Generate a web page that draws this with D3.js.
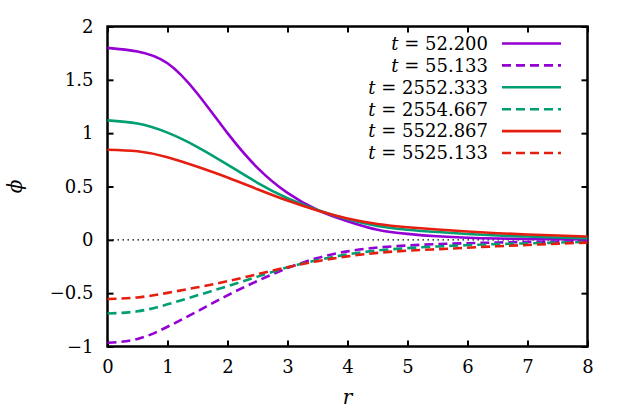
<!DOCTYPE html>
<html>
<head>
<meta charset="utf-8">
<style>
  body { margin: 0; background: #fff; }
  svg text { font-family: "DejaVu Serif", "Liberation Serif", serif; fill: #000; }
</style>
</head>
<body>
<script src="https://cdn.jsdelivr.net/npm/d3@7"></script>
<script>

  // radius samples
  const rValues = [0, 0.5, 1, 1.5, 2, 2.5, 3, 3.5, 4, 4.5, 5, 5.5, 6, 6.5, 7, 7.5, 8]

  const phi_52_200   = [1.80, 1.765, 1.655, 1.37, 1.00, 0.675, 0.44, 0.28, 0.175, 0.095, 0.056, 0.033, 0.019, 0.012, 0.008, 0.005, 0.003]
  const phi_55_133   = [-0.965, -0.93, -0.815, -0.67, -0.52, -0.385, -0.265, -0.17, -0.108, -0.072, -0.053, -0.04, -0.032, -0.025, -0.02, -0.015, -0.012]
  const phi_2552_333 = [1.12, 1.09, 1.005, 0.87, 0.705, 0.535, 0.39, 0.28, 0.192, 0.13, 0.095, 0.073, 0.055, 0.041, 0.031, 0.022, 0.016]
  const phi_2554_667 = [-0.69, -0.67, -0.605, -0.52, -0.435, -0.345, -0.258, -0.19, -0.137, -0.10, -0.078, -0.062, -0.05, -0.04, -0.033, -0.026, -0.02]
  const phi_5522_867 = [0.845, 0.83, 0.775, 0.685, 0.585, 0.475, 0.368, 0.275, 0.20, 0.148, 0.118, 0.097, 0.078, 0.062, 0.05, 0.04, 0.031]
  const phi_5525_133 = [-0.555, -0.54, -0.497, -0.445, -0.388, -0.322, -0.257, -0.20, -0.155, -0.122, -0.102, -0.088, -0.074, -0.06, -0.048, -0.036, -0.026]

  const seriesLabels = ['52.200', '55.133', '2552.333', '2554.667', '5522.867', '5525.133']
  const seriesValues = [phi_52_200, phi_55_133, phi_2552_333, phi_2554_667, phi_5522_867, phi_5525_133]

  const xTicks = [0, 1, 2, 3, 4, 5, 6, 7, 8]
  const yTicks = [-1, -0.5, 0, 0.5, 1, 1.5, 2]

  const colors = {purple: '#9400D3', green: '#009E73', red: '#E51E10'}
  const seriesColors = [colors.purple, colors.purple, colors.green, colors.green, colors.red, colors.red]
  const seriesDashed = [false, true, false, true, false, true]

  const fontFam = '"DejaVu Serif", "Liberation Serif", serif'

  const margin = {left: 107.5, top: 26.5, right: 39.5, bottom: 71.5}
  const W = 627, H = 418
  const width = W - margin.left - margin.right,
        height = H - margin.top - margin.bottom

  const xScale = d3.scaleLinear().domain([0, 8]).range([0, width])
  const yScale = d3.scaleLinear().domain([-1, 2]).range([height, 0])

  const svg = d3.select('body').append('svg')
      .attr('width', W)
      .attr('height', H)
      .attr('font-family', fontFam)

  const g = svg.append('g')
      .attr('transform', `translate(${margin.left}, ${margin.top})`)

  // zero line
  g.append('line')
      .attr('x1', 0).attr('x2', width)
      .attr('y1', yScale(0)).attr('y2', yScale(0))
      .style('stroke', '#000')
      .style('stroke-width', 1.2)
      .style('stroke-dasharray', '1.5,3.5')

  // axes with inward ticks on all four sides
  const tickLen = 6
  const fmtY = d => d < 0 ? '\u2212' + Math.abs(d) : String(d)

  const axB = g.append('g').attr('transform', `translate(0, ${height})`)
    .call(d3.axisBottom(xScale).tickValues(xTicks).tickSize(-tickLen).tickPadding(14).tickFormat(d => d))
  const axT = g.append('g')
    .call(d3.axisTop(xScale).tickValues(xTicks).tickSize(-tickLen).tickFormat(''))
  const axL = g.append('g')
    .call(d3.axisLeft(yScale).tickValues(yTicks).tickSize(-tickLen).tickPadding(14).tickFormat(fmtY))
  const axR = g.append('g').attr('transform', `translate(${width}, 0)`)
    .call(d3.axisRight(yScale).tickValues(yTicks).tickSize(-tickLen).tickFormat(''))

  ;[axB, axT, axL, axR].forEach(a => {
    a.attr('font-family', fontFam)
    a.select('.domain').remove()
    a.selectAll('line').style('stroke', '#000').style('stroke-width', 2)
    a.selectAll('text')
        .style('font-size', '18px')
        .attr('fill', '#000')
  })
  axB.selectAll('text').attr('dy', '0.71em')

  // frame
  g.append('rect')
      .attr('x', 0).attr('y', 0)
      .attr('width', width).attr('height', height)
      .style('fill', 'none')
      .style('stroke', '#000')
      .style('stroke-width', 2.5)

  // curves
  const line = d3.line()
      .x(d => xScale(d[0]))
      .y(d => yScale(d[1]))
      .curve(d3.curveNatural)

  seriesValues.forEach((vals, i) => {
    g.append('path')
        .datum(rValues.map((r, j) => [r, vals[j]]))
        .attr('d', line)
        .style('fill', 'none')
        .style('stroke', seriesColors[i])
        .style('stroke-width', 2.6)
        .style('stroke-dasharray', seriesDashed[i] ? '9,5' : null)
  })

  // legend
  const legend = g.append('g')
  const legTextX = 488 - margin.left,
        legLineX1 = 502 - margin.left,
        legLineX2 = 561 - margin.left,
        legY0 = 43.5 - margin.top,
        legStep = 21.9

  seriesLabels.forEach((lab, i) => {
    const y = legY0 + i*legStep
    const t = legend.append('text')
        .attr('x', legTextX)
        .attr('y', y)
        .attr('dy', '0.35em')
        .style('text-anchor', 'end')
        .style('font-size', '18px')
    t.append('tspan').style('font-style', 'italic').text('t')
    t.append('tspan').text(' = ' + lab)

    legend.append('line')
        .attr('x1', legLineX1).attr('x2', legLineX2)
        .attr('y1', y).attr('y2', y)
        .style('stroke', seriesColors[i])
        .style('stroke-width', 2.6)
        .style('stroke-dasharray', seriesDashed[i] ? '9,5' : null)
  })

  // axis labels
  svg.append('text')
      .attr('x', margin.left + width/2)
      .attr('y', 404)
      .style('text-anchor', 'middle')
      .style('font-size', '20px')
      .style('font-style', 'italic')
      .text('r')

  svg.append('text')
      .attr('transform', `translate(22, ${margin.top + height/2}) rotate(-90)`)
      .style('text-anchor', 'middle')
      .style('font-size', '20px')
      .style('font-style', 'italic')
      .text('\u03d5')

</script>
</body>
</html>
